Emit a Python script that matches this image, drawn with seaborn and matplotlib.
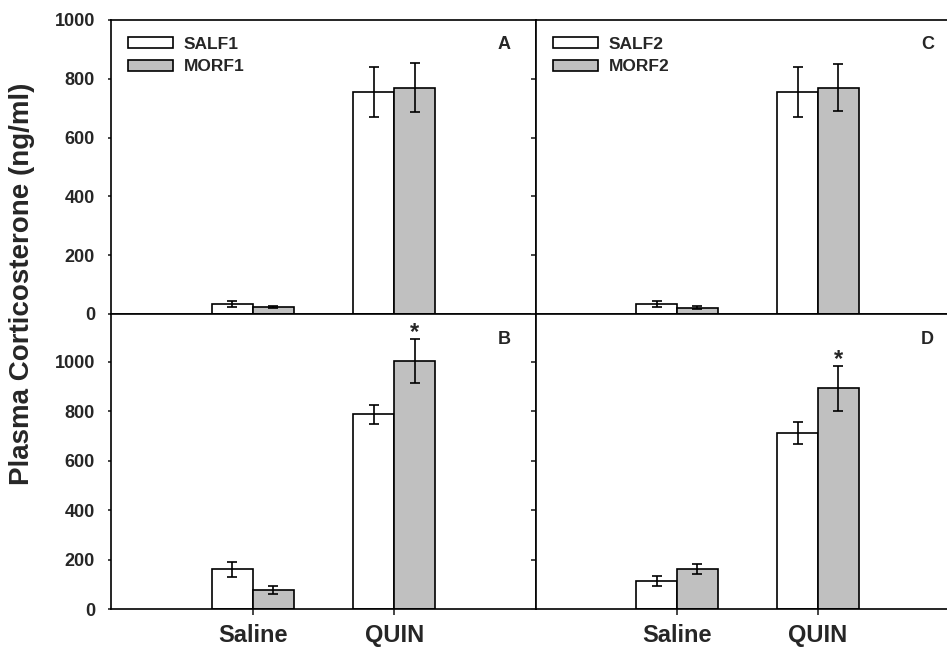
import matplotlib
matplotlib.use("Agg")
import matplotlib.pyplot as plt
import matplotlib.patches as mpatches
import seaborn as sns
import pandas as pd

# ---------------- data ----------------
categories = ["Saline", "QUIN"]

labels_left = ["SALF1", "MORF1"]
labels_right = ["SALF2", "MORF2"]

# Panel A (top-left)
a_sal = [34, 755]
a_sal_err = [11, 85]
a_mor = [23, 770]
a_mor_err = [4, 83]

# Panel B (bottom-left)
b_sal = [160, 788]
b_sal_err = [30, 38]
b_mor = [77, 1004]
b_mor_err = [15, 90]

# Panel C (top-right)
c_sal = [34, 755]
c_sal_err = [11, 85]
c_mor = [22, 770]
c_mor_err = [4, 80]

# Panel D (bottom-right)
d_sal = [113, 713]
d_sal_err = [19, 45]
d_mor = [162, 893]
d_mor_err = [21, 90]

# significance markers: (panel, category, series index)
significant = [("B", "QUIN", 1), ("D", "QUIN", 1)]

yticks = [0, 200, 400, 600, 800, 1000]

# ---------------- style ----------------
sns.set_style("ticks")
plt.rcParams["font.family"] = ["Liberation Sans", "DejaVu Sans"]
plt.rcParams["font.weight"] = "bold"

colors = ["#FFFFFF", "#C0C0C0"]
LW = 1.2

fig = plt.figure(figsize=(9.47, 6.48), dpi=100)

W, H = 947.0, 648.0
def ax_at(x0, y_top, x1, y_bot):
    return fig.add_axes([x0 / W, 1 - y_bot / H, (x1 - x0) / W, (y_bot - y_top) / H])

panels = {
    "A": dict(ax=ax_at(111, 20, 536, 314), sal=a_sal, se=a_sal_err, mor=a_mor, me=a_mor_err,
              labels=labels_left, ymax=1000, left=True, bottom=False, legend=True),
    "B": dict(ax=ax_at(111, 314, 536, 609), sal=b_sal, se=b_sal_err, mor=b_mor, me=b_mor_err,
              labels=labels_left, ymax=1194, left=True, bottom=True, legend=False),
    "C": dict(ax=ax_at(536, 20, 959, 314), sal=c_sal, se=c_sal_err, mor=c_mor, me=c_mor_err,
              labels=labels_right, ymax=1000, left=False, bottom=False, legend=True),
    "D": dict(ax=ax_at(536, 314, 959, 609), sal=d_sal, se=d_sal_err, mor=d_mor, me=d_mor_err,
              labels=labels_right, ymax=1194, left=False, bottom=True, legend=False),
}

for name, p in panels.items():
    ax = p["ax"]
    sal_name, mor_name = p["labels"]
    df = pd.DataFrame({
        "treatment": categories + categories,
        "group": [sal_name] * len(categories) + [mor_name] * len(categories),
        "cort": p["sal"] + p["mor"],
    })
    sns.barplot(data=df, x="treatment", y="cort", hue="group", order=categories,
                hue_order=[sal_name, mor_name], palette=colors, saturation=1,
                width=0.58, edgecolor="black", linewidth=LW, errorbar=None,
                legend=False, ax=ax, zorder=2)
    err_sets = [p["se"], p["me"]]
    tops = {}
    for s_idx, (cont, errs) in enumerate(zip(ax.containers, err_sets)):
        for bar, e, cat in zip(cont, errs, categories):
            xc = bar.get_x() + bar.get_width() / 2
            h = bar.get_height()
            ax.errorbar(xc, h, yerr=e, fmt="none", ecolor="black", elinewidth=LW,
                        capsize=3.3, capthick=LW, zorder=3)
            tops[(cat, s_idx)] = (xc, h + e)
    for (pn, cat, s_idx) in significant:
        if pn == name:
            xc, yt = tops[(cat, s_idx)]
            ax.annotate("*", (xc, yt), xytext=(0, 0), textcoords="offset points",
                        ha="center", va="baseline", fontsize=17, fontweight="bold")

    ax.set_xlim(-1, 2)
    ax.set_ylim(0, p["ymax"])
    ax.set_yticks(yticks)
    ax.set_xlabel("")
    ax.set_ylabel("")
    for sp in ax.spines.values():
        sp.set_visible(True)
        sp.set_linewidth(LW)
        sp.set_color("black")
    if p["left"]:
        ax.tick_params(axis="y", direction="out", length=2.5, width=LW, labelsize=13,
                       labelleft=True, pad=9)
    else:
        ax.tick_params(axis="y", direction="out", length=3.5, width=LW,
                       labelleft=False)
    ax.tick_params(axis="x", direction="out", length=4.5, width=LW, labelsize=17,
                   labelbottom=p["bottom"], pad=6)
    for t in ax.get_yticklabels() + ax.get_xticklabels():
        t.set_fontweight("bold")
    ax.text(0.925, 0.915, name, transform=ax.transAxes, ha="center", va="center",
            fontsize=13, fontweight="bold")
    if p["legend"]:
        handles = [mpatches.Patch(facecolor=c, edgecolor="black", linewidth=LW, label=l)
                   for c, l in zip(colors, p["labels"])]
        ax.legend(handles=handles, loc="upper left", bbox_to_anchor=(0.04, 0.942),
                  frameon=False, borderpad=0, borderaxespad=0, handlelength=2.6,
                  handleheight=0.6, handletextpad=0.6, labelspacing=0.42,
                  prop={"size": 12.5, "weight": "bold"})

fig.text(22 / W, 1 - 284 / H, "Plasma Corticosterone (ng/ml)", rotation=90,
         ha="center", va="center", fontsize=20, fontweight="bold")

fig.savefig("out.png", dpi=100)
